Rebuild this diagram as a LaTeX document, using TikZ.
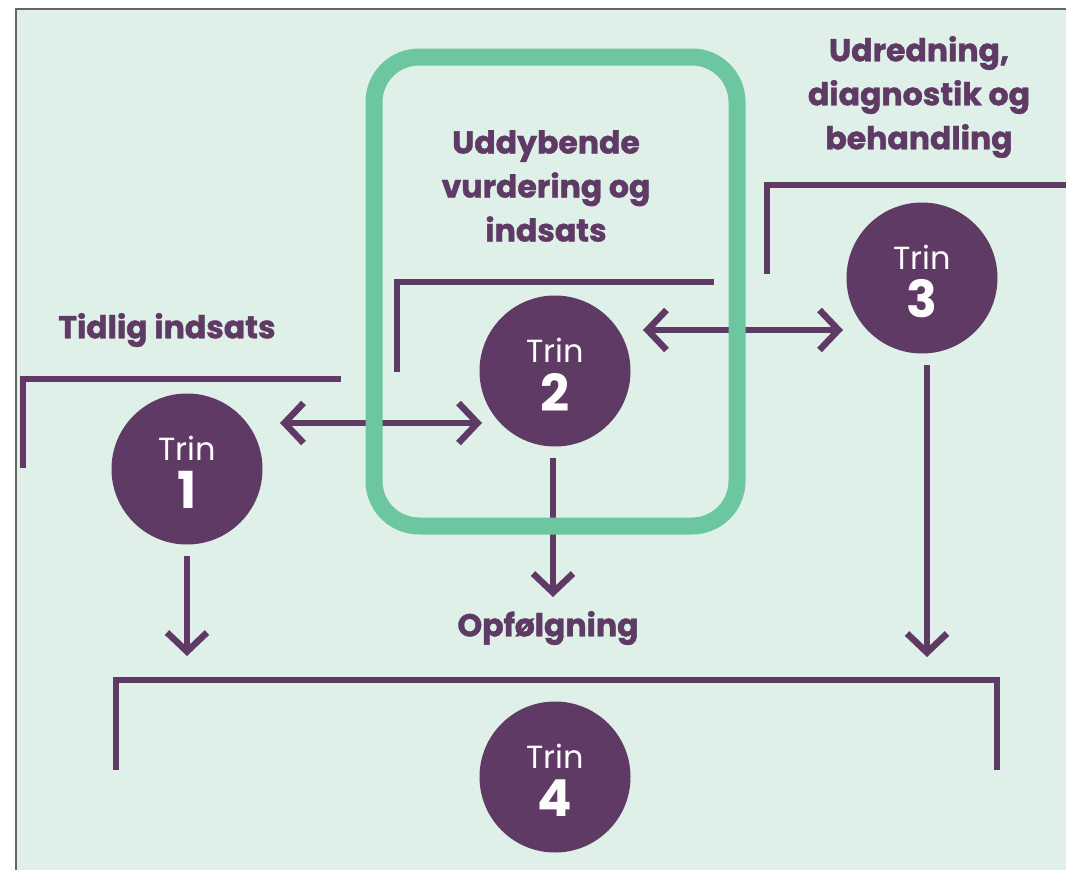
\documentclass[tikz,border=0pt]{standalone}
\usepackage{fontspec}
\setmainfont{Poppins}
\newfontfamily\headfont[BoldFeatures={FakeBold=1.3}]{Poppins}
\usetikzlibrary{arrows.meta,calc}
\definecolor{bg}{HTML}{DFF0E8}
\definecolor{plum}{HTML}{5E3A64}
\definecolor{mint}{HTML}{6CC6A0}
\begin{document}
\begin{tikzpicture}[x=1pt,y=-1pt,
 trin/.style={circle,fill=plum,minimum size=151pt,inner sep=0pt},
 trinlbl/.style={text=white,inner sep=0pt,font=\fontsize{32}{32}\selectfont},
 trinnum/.style={text=white,inner sep=0pt,font=\fontsize{51}{51}\selectfont\bfseries},
 head/.style={text=plum,inner sep=0pt,font=\headfont\fontsize{31.5}{44}\selectfont\bfseries,align=center},
 bracket/.style={draw=plum,line width=6.5pt},
 barb/.tip={Straight Barb[length=19pt,width=40pt]},
 arr/.style={draw=plum,line width=6.5pt,-barb},
 darr/.style={draw=plum,line width=6.5pt,barb-barb},
 greenbox/.style={draw=mint,line width=17pt,rounded corners=45pt}
]
\useasboundingbox (0,0) rectangle (1066,870);
\fill[white] (0,0) rectangle (1066,870);
\fill[bg] (16,9) rectangle (1066,870);
\draw[gray!80!black,line width=1.5pt] (16,870) -- (16,9) -- (1066,9);

% circles
\node[trin] (t1) at (187,469) {};
\node[trin] (t2) at (555,371) {};
\node[trin] (t3) at (922,278) {};
\node[trin] (t4) at (555,777) {};
\foreach \n in {1,2,3,4}{
  \node[trinlbl] (l\n) at ($(t\n)+(0,-21)$) {Trin};
  \node[trinnum] (n\n) at ($(t\n)+(0,21)$) {\n};
}

% headings
\node[head] (h1) at (167,330) {Tidlig indsats};
\node[head] (h2) at (546,186) {Uddybende\\vurdering og\\indsats};
\node[head] (h3) at (919,97) {Udredning,\\diagnostik og\\behandling};
\node[head] (opf) at (548,628) {Opfølgning};

% brackets
\draw[bracket] (23,468) -- (23,379) -- (341,379);
\draw[bracket] (397,372) -- (397,282) -- (714,282);
\draw[bracket] (767,274) -- (767,185) -- (1066,185);
\draw[bracket] (116,770) -- (116,680) -- (997,680) -- (997,770);

% arrows
\draw[darr] ($(t1)+(93,-46)$) -- ($(t2)+(-73,52)$);
\draw[darr] ($(t2)+(88,-41)$) -- ($(t3)+(-79,52)$);
\draw[arr] ($(t2)+(-2,87)$) -- ($(t2)+(-2,226)$);
\draw[arr] ($(t1)+(0,87)$) -- ($(t1)+(0,187)$);
\draw[arr] ($(t3)+(5,87)$) -- ($(t3)+(5,379)$);

% green frame
\draw[greenbox] (374,57) rectangle (737,526);
\end{tikzpicture}
\end{document}
